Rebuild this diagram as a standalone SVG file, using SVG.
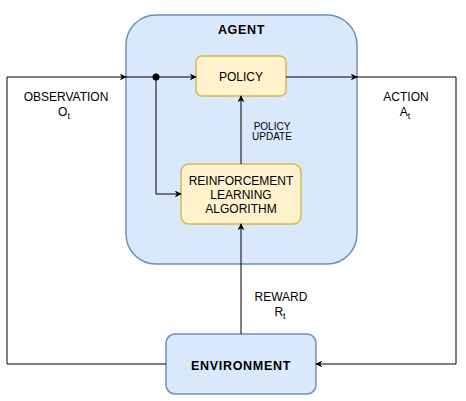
<svg xmlns="http://www.w3.org/2000/svg" width="466" height="401" viewBox="0 0 466 401">
<defs>
<marker id="arr" viewBox="0 0 10 10" refX="9" refY="5" markerWidth="7" markerHeight="7" orient="auto" markerUnits="userSpaceOnUse">
<path d="M0,0 L10,5 L0,10 L3,5 Z" fill="#000"/>
</marker>
</defs>
<style>
text{font-family:"Liberation Sans",Arial,sans-serif;font-size:12px;fill:#000;text-anchor:middle}
.b{font-weight:bold;font-size:12.5px;letter-spacing:0.7px}
.s{font-size:10px}
.blue{fill:#dae8fc;stroke:#6c8ebf;stroke-width:1.5}
.yel{fill:#fff2cc;stroke:#d6b656;stroke-width:1.5}
.c{fill:none;stroke:#000;stroke-width:1}
</style>
<rect width="466" height="401" fill="#fff"/>
<g id="agent">
<rect class="blue" x="126" y="15" width="231" height="249" rx="30"/>
<text class="b" x="241.5" y="34">AGENT</text>
</g>
<g id="policy">
<rect class="yel" x="196" y="56" width="90" height="40" rx="6"/>
<text x="241" y="80.5">POLICY</text>
</g>
<g id="rl">
<rect class="yel" x="181" y="164" width="120" height="60" rx="8"/>
<text x="241" y="185">REINFORCEMENT</text>
<text x="241" y="199">LEARNING</text>
<text x="241" y="213">ALGORITHM</text>
</g>
<g id="environment">
<rect class="blue" x="166" y="334" width="150" height="60" rx="9"/>
<text class="b" x="241" y="370">ENVIRONMENT</text>
</g>
<g id="connectors">
<path class="c" d="M166,364 H7 V77 H126" marker-end="url(#arr)"/>
<path class="c" d="M126,77 H196" marker-end="url(#arr)"/>
<circle cx="156" cy="77" r="3.5" fill="#000"/>
<path class="c" d="M156,77 V194 H181" marker-end="url(#arr)"/>
<path class="c" d="M286,77 H357" marker-end="url(#arr)"/>
<path class="c" d="M357,77 H456 V364 H316" marker-end="url(#arr)"/>
<path class="c" d="M241,164 V96" marker-end="url(#arr)"/>
<path class="c" d="M241,334 V224" marker-end="url(#arr)"/>
</g>
<g id="labels">
<text x="66" y="101">OBSERVATION</text>
<text x="64" y="116">O<tspan font-size="9" dy="3">t</tspan></text>
<text x="406" y="101">ACTION</text>
<text x="405" y="116">A<tspan font-size="9" dy="3">t</tspan></text>
<text class="s" x="272" y="129.5">POLICY</text>
<text class="s" x="272" y="139.5">UPDATE</text>
<text x="281" y="301">REWARD</text>
<text x="280" y="316">R<tspan font-size="9" dy="3">t</tspan></text>
</g>
</svg>
